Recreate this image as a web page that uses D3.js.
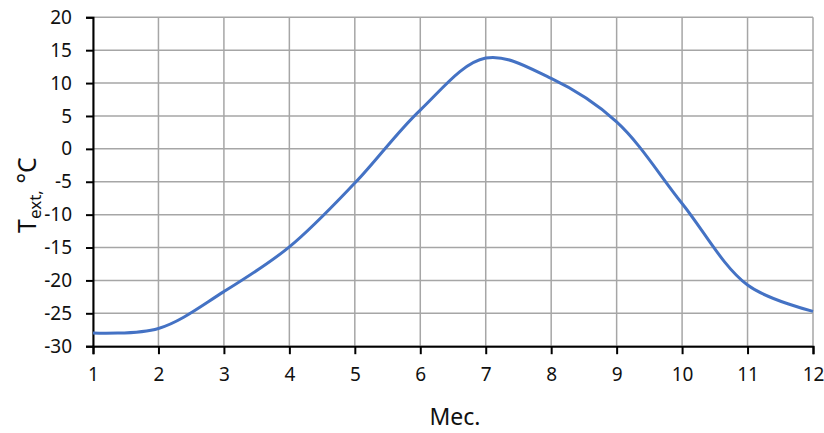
<!DOCTYPE html>
<html><head><meta charset="utf-8">
<script src="https://cdn.jsdelivr.net/npm/d3@7/dist/d3.min.js"></script>
<style>body{margin:0;background:#fff;} text{font-family:"Noto Sans",sans-serif;}</style>
</head><body>
<svg id="c" width="824" height="433"></svg>
<script>
const months = [1,2,3,4,5,6,7,8,9,10,11,12];
const temps = [-28.0,-27.3,-21.7,-14.9,-5.2,5.9,13.8,10.7,4.1,-8.3,-20.7,-24.7];
const yTicks = [-30,-25,-20,-15,-10,-5,0,5,10,15,20];
const xLabel = "Mec.";

const svg = d3.select("#c");
const x = d3.scaleLinear().domain([1,12]).range([93,813]);
const y = d3.scaleLinear().domain([-30,20]).range([346.2,17.3]);
const fmt = d => String(d);

// grid
svg.append("g").selectAll("line.h").data(yTicks).join("line")
  .attr("x1",93).attr("x2",813).attr("y1",d=>y(d)).attr("y2",d=>y(d))
  .attr("stroke","#a6a6a6").attr("stroke-width",1.5);
svg.append("g").selectAll("line.v").data(months).join("line")
  .attr("x1",d=>x(d)).attr("x2",d=>x(d)).attr("y1",y(-30)).attr("y2",y(20))
  .attr("stroke","#a6a6a6").attr("stroke-width",1.5);

// axes
const ya = svg.append("g").attr("transform","translate(93,0)")
  .call(d3.axisLeft(y).tickValues(yTicks).tickSize(7).tickPadding(14).tickFormat(fmt));
const xa = svg.append("g").attr("transform",`translate(0,${y(-30)})`)
  .call(d3.axisBottom(x).tickValues(months).tickSize(8).tickPadding(13).tickFormat(fmt));
[ya,xa].forEach(a=>{
  a.select(".domain").attr("stroke","#000").attr("stroke-width",2);
  a.selectAll(".tick line").attr("stroke","#000").attr("stroke-width",2);
  a.selectAll(".tick text").attr("fill","#111").style("font-size","19px");
});

// line
const line = d3.line().x((d,i)=>x(months[i])).y(d=>y(d)).curve(d3.curveCatmullRom.alpha(0.5));
svg.append("path").datum(temps).attr("d",line).attr("fill","none")
  .attr("stroke","#4472c4").attr("stroke-width",3);

// labels
svg.append("text").attr("x",455).attr("y",425).attr("text-anchor","middle")
  .style("font-size","23px").attr("fill","#111").text(xLabel);
const yl = svg.append("text").attr("transform","translate(36,195) rotate(-90)")
  .attr("text-anchor","middle").style("font-size","25px").attr("fill","#111");
yl.append("tspan").text("T");
yl.append("tspan").attr("dy",5).style("font-size","17px").text("ext,");
yl.append("tspan").attr("dy",-5).text(" °C");
</script>
</body></html>
